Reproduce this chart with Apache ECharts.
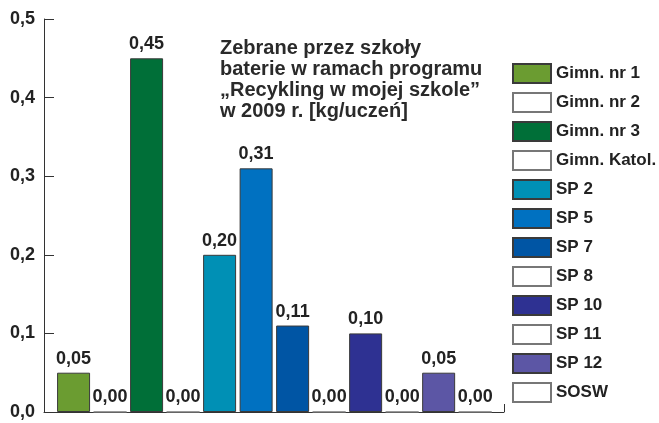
<!DOCTYPE html>
<html>
<head>
<meta charset="utf-8">
<script src="https://cdn.jsdelivr.net/npm/echarts@6/dist/echarts.min.js"></script>
<style>
  html, body { margin: 0; padding: 0; background: #fff; }
  #chart { width: 659px; height: 423px; }
</style>
</head>
<body>
<div id="chart"></div>
<script>
  const schools = ["Gimn. nr 1", "Gimn. nr 2", "Gimn. nr 3", "Gimn. Katol.", "SP 2", "SP 5",
    "SP 7", "SP 8", "SP 10", "SP 11", "SP 12", "SOSW"];
  const values = [0.05, 0.00, 0.45, 0.00, 0.20, 0.31, 0.11, 0.00, 0.10, 0.00, 0.05, 0.00];
  const yTicks = [0, 0.1, 0.2, 0.3, 0.4, 0.5];
  const titleText = "Zebrane przez szkoły\nbaterie w ramach programu\n„Recykling w mojej szkole”\nw 2009 r. [kg/uczeń]";

  const COLORS = ["#6b9c31", "#ffffff", "#006f38", "#ffffff", "#0090b5", "#0071c1",
    "#0055a4", "#ffffff", "#2e3192", "#ffffff", "#5c56a5", "#ffffff"];

  const FONT = "'Liberation Sans', Arial, sans-serif";
  const fmt = (v) => v.toFixed(2).replace(".", ",");

  const chart = echarts.init(document.getElementById("chart"));

  const series = schools.map((name, i) => ({
    name: name,
    type: "bar",
    barWidth: 33,
    barGap: "-100%",
    data: [[i, values[i]]],
    itemStyle: {
      color: COLORS[i],
      borderColor: COLORS[i] === "#ffffff" ? "#777" : "#3a3a3a",
      borderWidth: 1,
    },
    label: {
      show: true,
      position: "top",
      distance: 5,
      fontFamily: FONT,
      fontWeight: "bold",
      fontSize: 18,
      color: "#222",
      formatter: (p) => fmt(p.value[1]),
    },
  }));

  const option = {
    animation: false,
    backgroundColor: "#fff",
    title: {
      text: titleText,
      left: 220,
      top: 38,
      padding: 0,
      textStyle: {
        fontFamily: FONT,
        fontWeight: "bold",
        fontSize: 20,
        lineHeight: 21,
        color: "#2a2a2a",
      },
    },
    legend: {
      orient: "vertical",
      left: 512,
      top: 63,
      padding: 0,
      itemWidth: 38,
      itemHeight: 19,
      itemGap: 8,
      icon: "rect",
      selectedMode: false,
      data: schools,
      textStyle: {
        fontFamily: FONT,
        fontWeight: "bold",
        fontSize: 17,
        color: "#222",
      },
    },
    grid: { left: 44, top: 19, right: 155, bottom: 11, containLabel: false },
    xAxis: {
      type: "value",
      min: -0.81,
      max: 11.79,
      interval: 12.6,
      axisLine: { show: true, onZero: false, lineStyle: { color: "#333", width: 1 } },
      axisTick: { show: true, inside: true, length: 8, lineStyle: { color: "#333" } },
      axisLabel: { show: false },
      splitLine: { show: false },
    },
    yAxis: {
      type: "value",
      min: yTicks[0],
      max: yTicks[yTicks.length - 1],
      interval: 0.1,
      axisLine: { show: true, onZero: false, lineStyle: { color: "#333", width: 1 } },
      axisTick: { show: true, inside: true, length: 10, lineStyle: { color: "#333" } },
      axisLabel: {
        margin: 9,
        fontFamily: FONT,
        fontWeight: "bold",
        fontSize: 18,
        color: "#222",
        formatter: (v) => v.toFixed(1).replace(".", ","),
      },
      splitLine: { show: false },
    },
    series: series,
  };

  chart.setOption(option);
</script>
</body>
</html>
